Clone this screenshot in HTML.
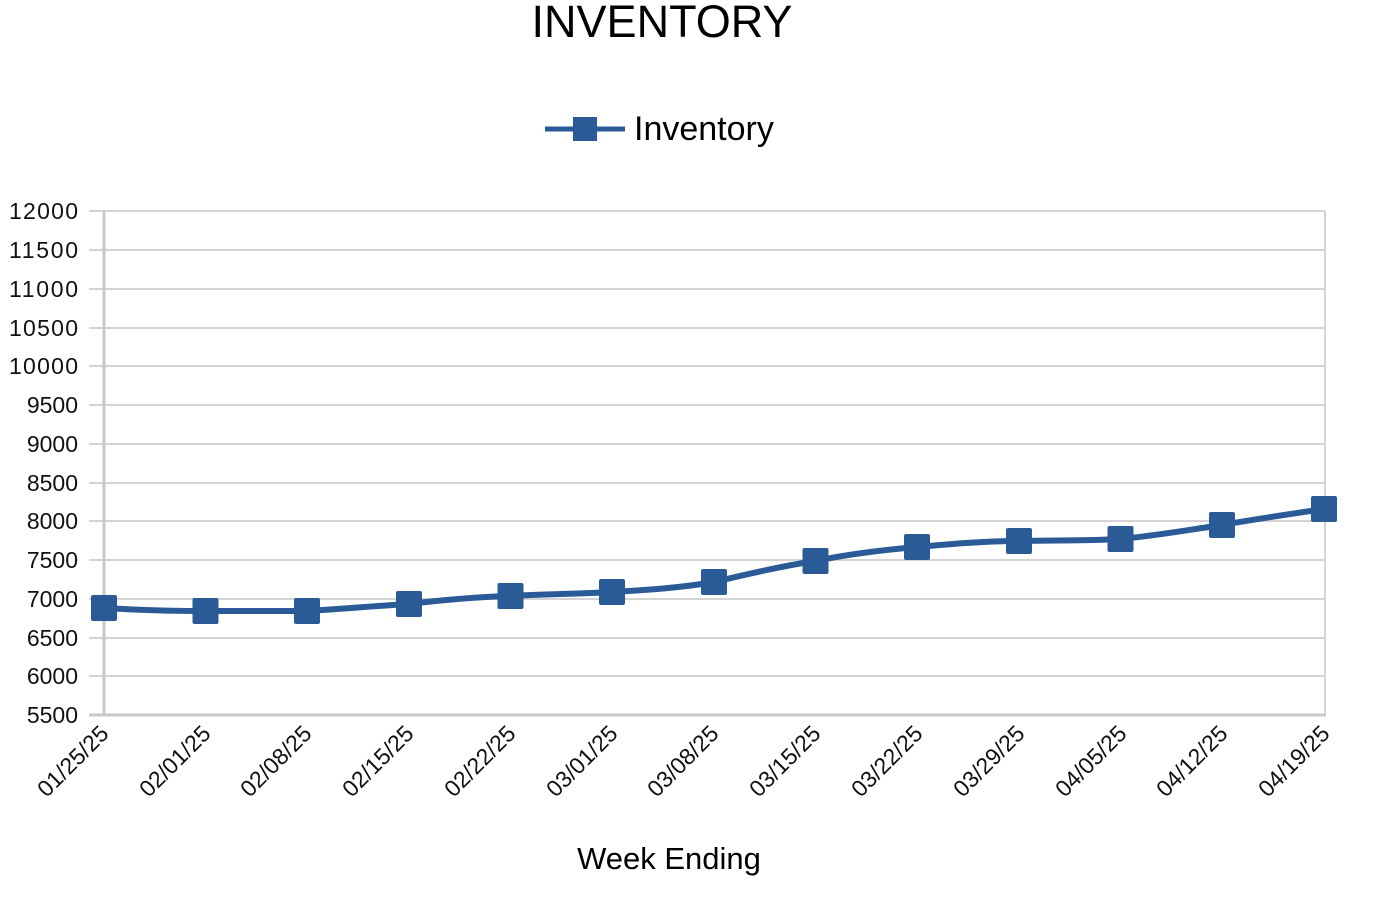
<!DOCTYPE html>
<html><head><meta charset="utf-8"><style>
html,body{margin:0;padding:0;background:#fff;}
svg{display:block;font-family:"Liberation Sans",sans-serif;}
</style></head><body>
<svg width="1380" height="900" viewBox="0 0 1380 900">
<text x="662" y="37" font-size="45" text-anchor="middle" fill="#000">INVENTORY</text>
<line x1="545" y1="129" x2="625" y2="129" stroke="#2a5b97" stroke-width="5"/>
<rect x="573" y="117" width="24" height="24" fill="#2a5b97"/>
<text x="634" y="140" font-size="34" fill="#000">Inventory</text>
<g stroke="#d4d4d4" stroke-width="2">
<line x1="89" y1="211" x2="1325" y2="211"/><line x1="89" y1="250" x2="1325" y2="250"/>
<line x1="89" y1="289" x2="1325" y2="289"/><line x1="89" y1="328" x2="1325" y2="328"/>
<line x1="89" y1="366" x2="1325" y2="366"/><line x1="89" y1="405" x2="1325" y2="405"/>
<line x1="89" y1="444" x2="1325" y2="444"/><line x1="89" y1="483" x2="1325" y2="483"/>
<line x1="89" y1="521" x2="1325" y2="521"/><line x1="89" y1="560" x2="1325" y2="560"/>
<line x1="89" y1="599" x2="1325" y2="599"/><line x1="89" y1="638" x2="1325" y2="638"/>
<line x1="89" y1="676" x2="1325" y2="676"/>
<line x1="1325" y1="211" x2="1325" y2="715"/>
</g>
<g stroke="#c8c8c8" stroke-width="3">
<line x1="104" y1="211" x2="104" y2="716"/><line x1="89" y1="715" x2="1326" y2="715"/>
</g>
<g font-size="23" fill="#111" text-anchor="end" textLength="69">
<text x="78" y="219" textLength="69">12000</text><text x="78" y="258" textLength="69">11500</text><text x="78" y="297" textLength="69">11000</text>
<text x="78" y="336" textLength="69">10500</text><text x="78" y="374" textLength="69">10000</text><text x="78" y="413">9500</text>
<text x="78" y="452">9000</text><text x="78" y="491">8500</text><text x="78" y="529">8000</text>
<text x="78" y="568">7500</text><text x="78" y="607">7000</text><text x="78" y="646">6500</text>
<text x="78" y="684">6000</text><text x="78" y="723">5500</text>
</g>
<g font-size="23" fill="#111" text-anchor="end">
<text transform="translate(110,735) rotate(-45)">01/25/25</text>
<text transform="translate(212,735) rotate(-45)">02/01/25</text>
<text transform="translate(313,735) rotate(-45)">02/08/25</text>
<text transform="translate(415,735) rotate(-45)">02/15/25</text>
<text transform="translate(517,735) rotate(-45)">02/22/25</text>
<text transform="translate(619,735) rotate(-45)">03/01/25</text>
<text transform="translate(720,735) rotate(-45)">03/08/25</text>
<text transform="translate(822,735) rotate(-45)">03/15/25</text>
<text transform="translate(924,735) rotate(-45)">03/22/25</text>
<text transform="translate(1026,735) rotate(-45)">03/29/25</text>
<text transform="translate(1128,735) rotate(-45)">04/05/25</text>
<text transform="translate(1229,735) rotate(-45)">04/12/25</text>
<text transform="translate(1331,735) rotate(-45)">04/19/25</text>
</g>
<text x="669" y="869" font-size="31" text-anchor="middle" fill="#000">Week Ending</text>
<path d="M104,608 C138,610 172,611 205.5,611 C239,611 273,611 307,611 C341,609 375,606 409,604 C443,600 477,597 510.5,596 C544,594 578,594 612,592 C646,590 680,588 714,582 C748,574 782,566 815.5,561 C849,554 883,550 917,547 C951,544 985,541 1019,541 C1053,540 1087,541 1120.5,539 C1154,536 1188,530 1222,525 C1256,519 1290,514 1324,509" fill="none" stroke="#2a5b97" stroke-width="6"/>
<g fill="#2a5b97">
<rect x="91" y="595" width="26" height="26" rx="2"/>
<rect x="192.5" y="598" width="26" height="26" rx="2"/>
<rect x="294" y="598" width="26" height="26" rx="2"/>
<rect x="396" y="591" width="26" height="26" rx="2"/>
<rect x="497.5" y="583" width="26" height="26" rx="2"/>
<rect x="599" y="579" width="26" height="26" rx="2"/>
<rect x="701" y="569" width="26" height="26" rx="2"/>
<rect x="802.5" y="548" width="26" height="26" rx="2"/>
<rect x="904" y="534" width="26" height="26" rx="2"/>
<rect x="1006" y="528" width="26" height="26" rx="2"/>
<rect x="1107.5" y="526" width="26" height="26" rx="2"/>
<rect x="1209" y="512" width="26" height="26" rx="2"/>
<rect x="1311" y="496" width="26" height="26" rx="2"/>
</g>
</svg>
</body></html>
